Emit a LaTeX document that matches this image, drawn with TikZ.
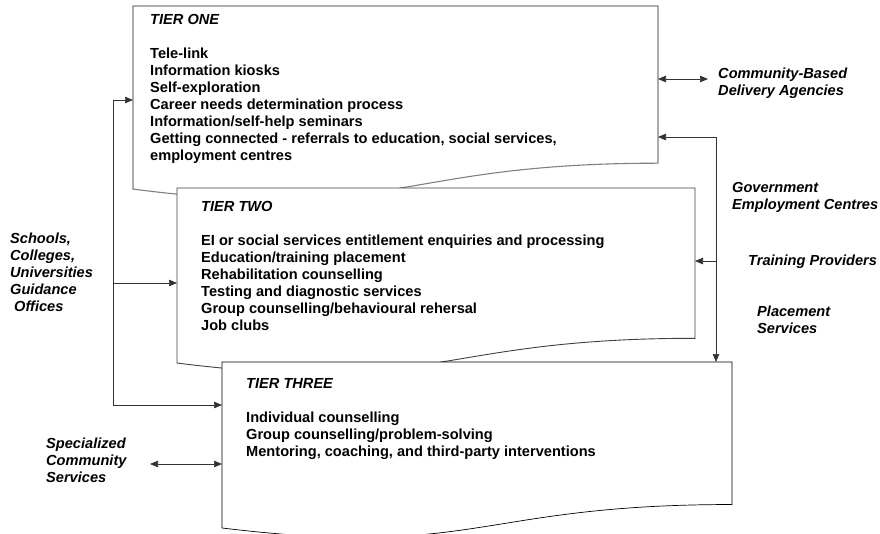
\documentclass[tikz,border=0pt]{standalone}
\usepackage{fontspec}
\setmainfont{Liberation Sans}
\usetikzlibrary{arrows.meta,calc,positioning}

\tikzset{
  tierframe/.style={rectangle, draw=none, inner sep=0pt, outer sep=0pt, anchor=north west},
  tiertext/.style={anchor=north west, inner sep=0pt, align=left, font=\fontsize{14.6}{17}\selectfont\bfseries},
  sidelabel/.style={anchor=north west, inner sep=0pt, align=left, font=\fontsize{14.6}{17}\selectfont\bfseries\itshape},
  flow/.style={draw=black!80, line width=0.7pt, -{Triangle[length=8pt,width=6.5pt]}},
  both/.style={flow, {Triangle[length=8pt,width=6.5pt]}-{Triangle[length=8pt,width=6.5pt]}},
}

% document-like outline round a tier frame
\newcommand{\docoutline}[2]{%
  \draw[fill=white, #2] (#1.north west) -- (#1.north east)
    -- ($(#1.north east)!0.802!(#1.south east)$)
    .. controls ($(#1.north)!0.802!(#1.south)$) and ($(#1.north)!1.1075!(#1.south)$)
    .. ($(#1.north west)!0.934!(#1.south west)$) -- cycle;}

\begin{document}
\begin{tikzpicture}[x=1pt, y=-1pt]
    \useasboundingbox (0,0) rectangle (880,533);

    % tier one
    \node[tierframe, minimum width=525pt, minimum height=196pt] (t1) at (133,6) {};
    \docoutline{t1}{draw=black!50, line width=1.1pt}
    \node[tiertext] (t1text) at (150,14.5) {\textit{TIER ONE}\\[17pt]
        Tele-link\\
        Information kiosks\\
        Self-exploration\\
        Career needs determination process\\
        Information/self-help seminars\\
        Getting connected - referrals to education, social services,\\
        employment centres};

    % tier two
    \node[tierframe, minimum width=518pt, minimum height=187.4pt] (t2) at (177,188) {};
    \docoutline{t2}{draw=black!75, line width=0.9pt}
    \node[tiertext] (t2text) at (201,201) {\textit{TIER TWO}\\[17pt]
        EI or social services entitlement enquiries and processing\\
        Education/training placement\\
        Rehabilitation counselling\\
        Testing and diagnostic services\\
        Group counselling/behavioural rehersal\\
        Job clubs};

    % tier three
    \node[tierframe, minimum width=510pt, minimum height=177.7pt] (t3) at (222,362) {};
    \docoutline{t3}{draw=black, line width=0.7pt}
    \node[tiertext] (t3text) at (246,378) {\textit{TIER THREE}\\[17pt]
        Individual counselling\\
        Group counselling/problem-solving\\
        Mentoring, coaching, and third-party interventions};

    % outside partners
    \node[sidelabel] (schools) at (10,232.5) {Schools,\\Colleges,\\Universities\\Guidance\\\hspace{4pt}Offices};
    \node[sidelabel] (special) at (46,437.5) {Specialized\\Community\\Services};
    \node[sidelabel] (community) at (718,67.5) {Community-Based\\Delivery Agencies};
    \node[sidelabel] (govt) at (732,182) {Government\\Employment Centres};
    \node[sidelabel] (training) at (748,254.5) {Training Providers};
    \node[sidelabel] (placement) at (757,305.5) {Placement\\Services};

    \coordinate (lbus1) at (113,100);
    \coordinate (lbus2) at (113,283);
    \coordinate (lbus3) at (113,405);
    \coordinate (specend) at (150,464);
    \coordinate (cbend) at (708,79);
    \coordinate (rbus1) at (716,137);
    \coordinate (rbus2) at (716,261);

    \draw[flow] (lbus1) -- (lbus1 -| t1.west);
    \draw[flow] (lbus2) -- (lbus2 -| t2.west);
    \draw[flow] (lbus1) |- (lbus3 -| t3.west);
    \draw[both] (specend) -- (specend -| t3.west);

    \draw[both] (cbend -| t1.east) -- (cbend);
    \draw[flow] (rbus1) -- (rbus1 -| t1.east);
    \draw[flow] (rbus2) -- (rbus2 -| t2.east);
    \draw[flow] (rbus1) -- (rbus1 |- t3.north);

\end{tikzpicture}
\end{document}
